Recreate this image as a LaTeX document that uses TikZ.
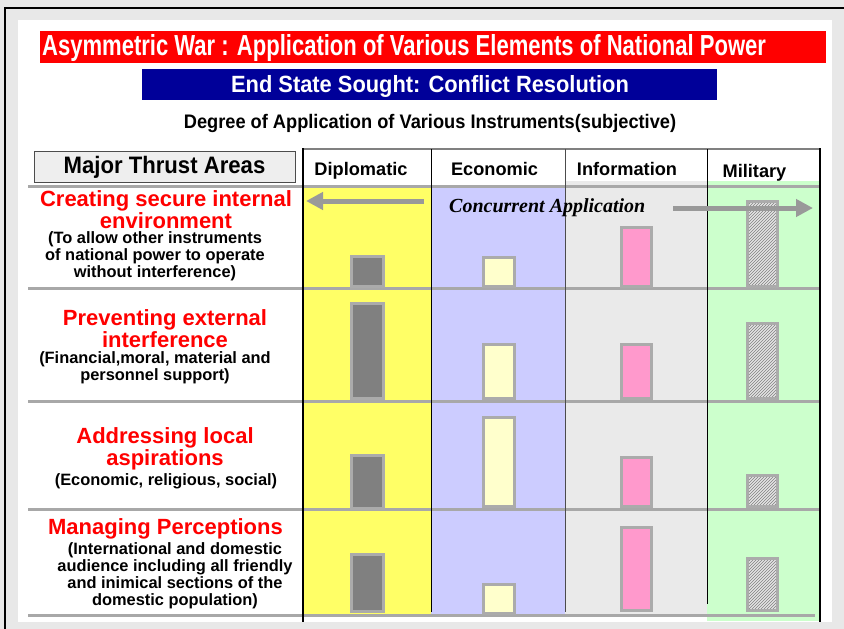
\documentclass[tikz,border=0pt]{standalone}
\usepackage{fontspec}
\setmainfont{Liberation Sans}
\newfontfamily\titlefont{Liberation Sans}[FakeStretch=0.76]
\newfontfamily\headfont{Liberation Sans}[FakeStretch=0.93]
\newfontfamily\concfont{Liberation Serif}
\usetikzlibrary{arrows.meta,patterns}

\definecolor{warred}{HTML}{FF0000}
\definecolor{warnavy}{HTML}{000099}
\definecolor{pagegray}{HTML}{E8E8E8}
\definecolor{dipyellow}{HTML}{FFFF66}
\definecolor{ecolav}{HTML}{CCCCFF}
\definecolor{infgray}{HTML}{EAEAEA}
\definecolor{milgreen}{HTML}{CCFFCC}
\definecolor{rowgray}{HTML}{A8A8A8}
\definecolor{barline}{HTML}{ABABAB}
\definecolor{dipbar}{HTML}{808080}
\definecolor{ecobar}{HTML}{FFFFCC}
\definecolor{infbar}{HTML}{FF99CC}
\definecolor{hatchbg}{HTML}{E4E4E4}
\definecolor{arrowgray}{HTML}{999999}
\definecolor{thrustfill}{HTML}{EEEEEE}

\begin{document}
\begin{tikzpicture}[x=1pt,y=-1pt,
	bar/.style={draw=barline,line width=3pt},
	rowline/.style={draw=rowgray,line width=3pt},
	concarrow/.style={draw=arrowgray,line width=5pt,-{Triangle[length=17pt,width=17pt]}},
	colhead/.style={anchor=base,inner sep=0,font=\fontsize{18.2}{18.2}\selectfont\bfseries},
	redhead/.style={anchor=base,inner sep=0,align=center,text=warred,font=\fontsize{22}{20}\selectfont\bfseries},
	subtext/.style={anchor=base,inner sep=0,align=center,font=\fontsize{16.4}{16.7}\selectfont\bfseries}]

	\useasboundingbox (0,0) rectangle (844,629);
	\fill[pagegray] (0,0) rectangle (844,629);
	\fill[white] (18,20) rectangle (832,622);
	\draw[line width=2.5pt] (5,629) -- (5,8) -- (844,8);

	% titles
	\fill[warred] (40,31) rectangle (826,63);
	\node[anchor=base west,inner sep=0,text=white,font=\titlefont\fontsize{29}{29}\selectfont\bfseries] (title) at (42,55)
		{Asymmetric War : Application of Various Elements of National Power};
	\fill[warnavy] (142,69) rectangle (717,100);
	\node[anchor=base,inner sep=0,text=white,font=\headfont\fontsize{23.5}{23.5}\selectfont\bfseries] (goal) at (430,92)
		{End State Sought: Conflict Resolution};
	\node[anchor=base,inner sep=0,font=\headfont\fontsize{19.6}{19.6}\selectfont\bfseries] (degree) at (430,128)
		{Degree of Application of Various Instruments(subjective)};

	% columns
	\fill[dipyellow] (304,186) rectangle (431,614);
	\fill[ecolav] (431,186) rectangle (565,614);
	\fill[infgray] (565,181) rectangle (707,616);
	\fill[milgreen] (707,181) rectangle (820,621);

	\draw[rowline] (28,186) -- (820,186);
	\draw[rowline] (28,288) -- (820,288);
	\draw[rowline] (28,401) -- (820,401);
	\draw[rowline] (28,509) -- (820,509);
	\draw[rowline] (28,615) -- (815,615);
	\draw[draw=gray,line width=1.5pt] (303,149) -- (820,149);

	\draw[line width=2pt] (303,148) -- (303,622);
	\draw[line width=1pt] (431,149) -- (431,612);
	\draw[draw=black!70,line width=1pt] (565,149) -- (565,612);
	\draw[line width=1pt] (707,149) -- (707,604);
	\draw[line width=2.5pt] (820,148) -- (820,622);

	% header
	\node[draw=black!70,fill=thrustfill,minimum width=261pt,minimum height=31pt,inner sep=0] (thrust) at (164.5,166.5) {};
	\node[anchor=base,inner sep=0,font=\headfont\fontsize{23.8}{23.8}\selectfont\bfseries] (thrusttext) at (164.5,173) {Major Thrust Areas};
	\node[colhead] (hdip) at (361,175) {Diplomatic};
	\node[colhead] (heco) at (494.5,175) {Economic};
	\node[colhead] (hinf) at (627,175) {Information};
	\node[colhead] (hmil) at (754.5,177) {Military};

	% bars
	\foreach \ya/\yb in {255/288, 302/400, 454/510, 553/613}
		\draw[bar,fill=dipbar] (351.5,\ya+1.5) rectangle (383.5,\yb-1.5);
	\foreach \ya/\yb in {256/288, 343/400, 416/508, 583/615}
		\draw[bar,fill=ecobar] (483.5,\ya+1.5) rectangle (514.5,\yb-1.5);
	\foreach \ya/\yb in {226/288, 343/400, 456/508, 526/612}
		\draw[bar,fill=infbar] (621.5,\ya+1.5) rectangle (651.5,\yb-1.5);
	\foreach \ya/\yb in {200/288, 322/400, 474/508, 557/612}
		\draw[bar,preaction={fill=hatchbg},pattern=north east lines,pattern color=gray] (747.5,\ya+1.5) rectangle (777.5,\yb-1.5);

	% concurrent application
	\coordinate (dipr) at (424,201);
	\coordinate (dipl) at (306,201);
	\draw[concarrow] (dipr) -- (dipl);
	\coordinate (mill) at (673,208);
	\coordinate (milr) at (813,208);
	\draw[concarrow] (mill) -- (milr);
	\node[anchor=base west,inner sep=0,font=\concfont\fontsize{20}{20}\selectfont\bfseries\itshape] (concur) at (449,212) {Concurrent Application};

	% thrust areas (base = last line)
	\node[redhead] (r1head) at (166,228) {Creating secure internal\\environment};
	\node[subtext] (r1text) at (155,277) {(To allow other instruments\\of national power to operate\\without interference)};
	\node[redhead] (r2head) at (165,347) {Preventing external\\interference};
	\node[subtext] (r2text) at (155,380) {(Financial,moral, material and\\personnel support)};
	\node[redhead] (r3head) at (165,465) {Addressing local\\aspirations};
	\node[subtext] (r3text) at (166,485) {(Economic, religious, social)};
	\node[redhead] (r4head) at (165.5,534) {Managing Perceptions};
	\node[subtext] (r4text) at (175,605) {(International and domestic\\audience including all friendly\\and inimical sections of the\\domestic population)};

\end{tikzpicture}
\end{document}
